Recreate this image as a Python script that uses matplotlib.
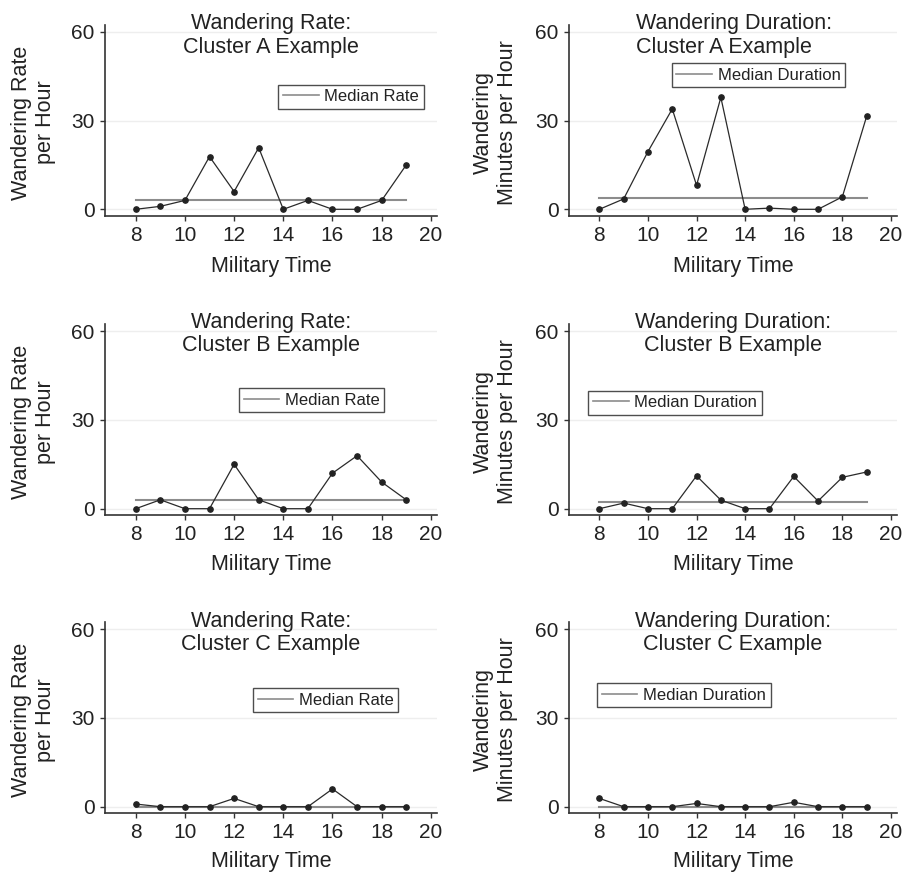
import matplotlib
matplotlib.use("Agg")
import matplotlib.pyplot as plt
from matplotlib.lines import Line2D

plt.rcParams['font.family'] = ['Liberation Sans', 'DejaVu Sans']

hours = [8, 9, 10, 11, 12, 13, 14, 15, 16, 17, 18, 19]

rate_a = [0, 1, 3, 17.8, 6, 20.8, 0, 3, 0, 0, 3, 15]
dur_a = [0, 3.5, 19.5, 33.9, 8.1, 37.8, 0, 0.4, 0, 0, 4.2, 31.4]
rate_b = [0, 3, 0, 0, 15, 3, 0, 0, 12, 17.9, 9, 3]
dur_b = [0, 1.9, 0, 0, 11.1, 2.9, 0, 0, 10.9, 2.6, 10.6, 12.4]
rate_c = [0.9, 0, 0, 0, 2.8, 0, 0, 0, 6, 0, 0, 0]
dur_c = [2.8, 0, 0, 0, 1.1, 0, 0, 0, 1.5, 0, 0, 0]

median_rate_a, median_dur_a = 3, 3.9
median_rate_b, median_dur_b = 3, 2.1
median_rate_c, median_dur_c = 0, 0

clusters = ["A", "B", "C"]
y_ticks = [0, 30, 60]
x_ticks = [8, 10, 12, 14, 16, 18, 20]

W, H = 905, 872
fig = plt.figure(figsize=(W / 100, H / 100), dpi=100)


def fx(x):
    return x / W


def fy(y):
    return 1 - y / H


PITCH = 298.7
left_cols = [(105, 332), (569, 328)]
zero_y = [209.3, 508.7, 806.7]
ppu = 2.96

data = [
    [(rate_a, median_rate_a), (dur_a, median_dur_a)],
    [(rate_b, median_rate_b), (dur_b, median_dur_b)],
    [(rate_c, median_rate_c), (dur_c, median_dur_c)],
]
legend_pos = [
    [(278.3, 84.7), (671.7, 63.3)],
    [(239, 388.3), (588.3, 390.7)],
    [(253, 688), (597, 683)],
]
ylabels = ["Wandering Rate\nper Hour", "Wandering\nMinutes per Hour"]
ylabel_x = [33.7, 495.5]
legend_labels = ["Median Rate", "Median Duration"]
title_first = ["Wandering Rate:", "Wandering Duration:"]

ymin, ymax = -2.2, 62.3
xmin, xmax = 6.75, 20.25
spine_col = "#333333"

for r in range(3):
    z = zero_y[r]
    top = z - ymax * ppu
    bottom = z - ymin * ppu
    for c in range(2):
        lx, wpx = left_cols[c]
        ax = fig.add_axes([fx(lx), fy(bottom), wpx / W, (bottom - top) / H])
        vals, med = data[r][c]
        ax.set_xlim(xmin, xmax)
        ax.set_ylim(ymin, ymax)
        for gy in y_ticks:
            ax.axhline(gy, color="#eeeeee", lw=1.0, zorder=0)
        ax.plot([hours[0], hours[-1]], [med, med], color="#8c8c8c", lw=1.5, zorder=1)
        ax.plot(hours, vals, color="#2a2a2a", lw=0.9, marker="o", markersize=3.8,
                markerfacecolor="#222222", markeredgecolor="#222222", zorder=2)
        ax.set_xticks(x_ticks)
        ax.set_yticks(y_ticks)
        ax.tick_params(direction="out", length=3.8, width=1.0, colors=spine_col,
                       labelsize=15, pad=3.5, labelcolor="#222222")
        for s in ["top", "right"]:
            ax.spines[s].set_visible(False)
        for s in ["left", "bottom"]:
            ax.spines[s].set_color(spine_col)
            ax.spines[s].set_linewidth(1.2)
        ax.set_facecolor("white")

        handle = Line2D([], [], color="#8c8c8c", lw=1.2)
        lpx, lpy = legend_pos[r][c]
        leg = ax.legend([handle], [legend_labels[c]], loc="upper left",
                        bbox_to_anchor=(fx(lpx), fy(lpy)), bbox_transform=fig.transFigure,
                        borderaxespad=0, fontsize=12, frameon=True, fancybox=False,
                        handlelength=2.15, handletextpad=0.35, borderpad=0.27)
        leg.get_frame().set_edgecolor("#222222")
        leg.get_frame().set_linewidth(1.0)
        for t in leg.get_texts():
            t.set_color("#222222")

        cx = lx + wpx / 2
        base1 = 29.3 + PITCH * r
        base2 = 52.5 + PITCH * r
        line2 = "Cluster %s Example" % clusters[r]
        if r == 0 and c == 1:
            fig.text(fx(636), fy(base1), title_first[c], ha="left", va="baseline",
                     fontsize=15.5, color="#222222")
            fig.text(fx(636), fy(base2), line2, ha="left", va="baseline",
                     fontsize=15.5, color="#222222")
        else:
            fig.text(fx(cx), fy(base1), title_first[c], ha="center", va="baseline",
                     fontsize=15.5, color="#222222")
            fig.text(fx(cx), fy(base2), line2, ha="center", va="baseline",
                     fontsize=15.5, color="#222222")
        xl_base = min(271.7 + PITCH * r, 866.5)
        fig.text(fx(cx), fy(xl_base), "Military Time", ha="center",
                 va="baseline", fontsize=15.5, color="#222222")
        fig.text(fx(ylabel_x[c]), fy(z - 30 * ppu + 2), ylabels[c], rotation=90,
                 ha="center", va="center", multialignment="center",
                 fontsize=15.5, color="#222222", linespacing=1.2)

fig.savefig("out.png", dpi=100, facecolor="white")
